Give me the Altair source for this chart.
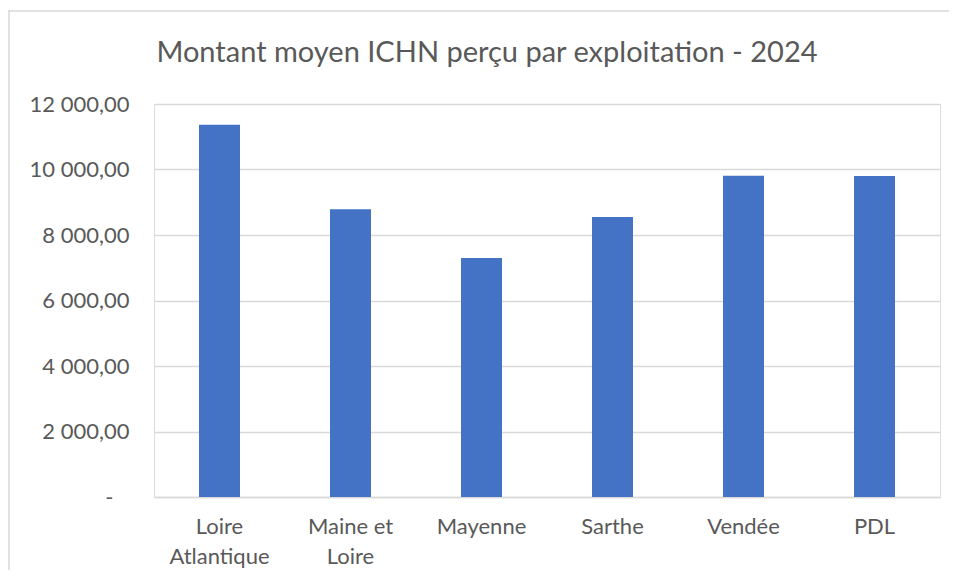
import altair as alt
import pandas as pd

categories = ["Loire Atlantique", "Maine et Loire", "Mayenne", "Sarthe", "Vendée", "PDL"]
values = [11370, 8790, 7300, 8550, 9810, 9800]
y_ticks = [0, 2000, 4000, 6000, 8000, 10000, 12000]
title_text = "Montant moyen ICHN perçu par exploitation - 2024"

df = pd.DataFrame({"cat": categories, "val": values})

FONT = "Lato"
GRAY = "#595959"

x_label_expr = (
    "datum.label == 'Loire Atlantique' ? ['Loire', 'Atlantique'] : "
    "datum.label == 'Maine et Loire' ? ['Maine et', 'Loire'] : datum.label"
)
y_label_expr = (
    "datum.value == 0 ? '-\u2800' : "
    "replace(replace(format(datum.value, ',.2f'), ',', '\u00a0'), '.', ',')"
)

bars = alt.Chart(df).mark_bar(size=41, color="#4472C4").encode(
    x=alt.X(
        "cat:N",
        sort=categories,
        title=None,
        scale=alt.Scale(paddingInner=0, paddingOuter=0),
        axis=alt.Axis(
            labelAngle=0,
            labelExpr=x_label_expr,
            labelFont=FONT,
            labelFontSize=22,
            labelColor=GRAY,
            labelPadding=19,
            labelLineHeight=30,
            ticks=False,
            domain=True,
            domainColor="#d9d9d9",
            domainWidth=1.5,
            grid=False,
            labelBaseline="top",
        ),
    ),
    y=alt.Y(
        "val:Q",
        title=None,
        scale=alt.Scale(domain=[0, 12000], nice=False),
        axis=alt.Axis(
            values=y_ticks,
            labelExpr=y_label_expr,
            labelFont=FONT,
            labelFontSize=22,
            labelColor=GRAY,
            labelPadding=25,
            ticks=False,
            domain=False,
            grid=True,
            gridColor="#d9d9d9",
            gridWidth=1.5,
        ),
    ),
)

one = pd.DataFrame({"a": [0]})
top_line = alt.Chart(one).mark_rect(
    color="#d9d9d9", strokeWidth=0, clip=False
).encode(
    x=alt.value(-145.75),
    x2=alt.value(1000),
    y=alt.value(-93.75),
    y2=alt.value(-92.25),
)
left_line = alt.Chart(one).mark_rect(
    color="#d9d9d9", strokeWidth=0, clip=False
).encode(
    x=alt.value(-145.75),
    x2=alt.value(-144.25),
    y=alt.value(-93.75),
    y2=alt.value(466),
)

chart = alt.layer(top_line, left_line, bars).properties(
    width=786,
    height=393,
    title=alt.TitleParams(
        title_text,
        font=FONT,
        fontSize=29,
        fontWeight="normal",
        color=GRAY,
        anchor="middle",
        frame="group",
        dx=-60,
        offset=-58,
    ),
    autosize=alt.AutoSizeParams(type="none"),
    padding={"left": 146, "top": 96, "right": 9, "bottom": 73},
).configure_view(strokeWidth=0).configure(background="white")

chart.save("out.html", embed_options={"renderer": "svg", "actions": False})
